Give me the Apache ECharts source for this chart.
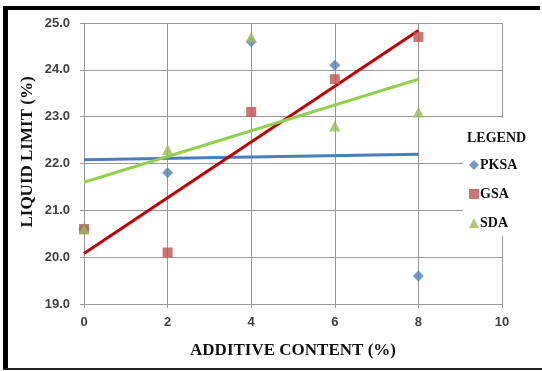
<!DOCTYPE html>
<html>
<head>
<meta charset="utf-8">
<script src="https://cdn.jsdelivr.net/npm/echarts@6/dist/echarts.min.js"></script>
<style>html,body{margin:0;padding:0;background:#fff;}#c{width:542px;height:371px;}</style>
</head>
<body>
<div id="c"></div>
<script>
var additive = [0, 2, 4, 6, 8];
var pksa = [20.6, 21.8, 24.6, 24.1, 19.6];
var gsa = [20.6, 20.1, 23.1, 23.8, 24.7];
var sda = [20.6, 22.3, 24.7, 22.8, 23.1];
var trendX = [0, 8];
var pksaTrend = [22.08, 22.2];
var gsaTrend = [20.08, 24.84];
var sdaTrend = [21.6, 23.8];

function pairs(xs, ys) { return xs.map(function (x, i) { return [x, ys[i]]; }); }

var chart = echarts.init(document.getElementById('c'));
var serif = '"Liberation Serif", "Times New Roman", serif';
var sans = '"Liberation Sans", Arial, sans-serif';
chart.setOption({
  animation: false,
  backgroundColor: '#fff',
  grid: { left: 84, right: 40, top: 23, bottom: 67 },
  xAxis: {
    type: 'value', min: 0, max: 10, interval: 2,
    name: 'ADDITIVE CONTENT (%)', nameLocation: 'middle', nameGap: 38,
    nameTextStyle: { fontFamily: serif, fontWeight: 'bold', fontSize: 17, color: '#111' },
    axisLine: { show: true, lineStyle: { color: '#999', width: 1 } },
    axisTick: { show: true, length: 4, lineStyle: { color: '#999' } },
    splitLine: { show: true, lineStyle: { color: '#999', width: 1 } },
    axisLabel: { fontFamily: sans, fontWeight: 'bold', fontSize: 13, color: '#404040', margin: 12 }
  },
  yAxis: {
    type: 'value', min: 19, max: 25, interval: 1,
    axisLine: { show: true, lineStyle: { color: '#999', width: 1 } },
    axisTick: { show: true, length: 4, lineStyle: { color: '#999' } },
    splitLine: { show: true, lineStyle: { color: '#999', width: 1 } },
    axisLabel: { fontFamily: sans, fontWeight: 'bold', fontSize: 13, color: '#404040', margin: 14,
      formatter: function (v) { return v.toFixed(1); } }
  },
  legend: {
    orient: 'vertical', left: 464, top: 153,
    itemWidth: 10, itemHeight: 10, itemGap: 15,
    data: ['PKSA', 'GSA', 'SDA'],
    textStyle: { fontFamily: serif, fontWeight: 'bold', fontSize: 14, color: '#111', padding: [0, 0, 0, -4] },
    z: 6
  },
  graphic: [
    { type: 'rect', shape: { x: 463, y: 118, width: 79, height: 118 }, style: { fill: '#fff' }, z: 5 },
    { type: 'text', x: 467, y: 138, style: { text: 'LEGEND', fontFamily: serif, fontWeight: 'bold', fontSize: 14, fill: '#111', textVerticalAlign: 'middle' }, z: 7 },
    { type: 'text', x: 28, y: 152, rotation: Math.PI / 2, style: { text: 'LIQUID LIMIT (%)', fontFamily: serif, fontWeight: 'bold', fontSize: 17, fill: '#111', textAlign: 'center', textVerticalAlign: 'middle' }, z: 7 },
    { type: 'rect', shape: { x: 5, y: 6, width: 535, height: 4 }, style: { fill: '#000' }, z: 8 },
    { type: 'rect', shape: { x: 3, y: 6, width: 5, height: 364 }, style: { fill: '#000' }, z: 8 },
    { type: 'rect', shape: { x: 3, y: 368, width: 539, height: 2 }, style: { fill: '#222' }, z: 8 }
  ],
  series: [
    { name: 'PKSA trend', type: 'line', data: pairs(trendX, pksaTrend), symbol: 'none', lineStyle: { color: '#4A7EBB', width: 3 }, z: 2 },
    { name: 'GSA trend', type: 'line', data: pairs(trendX, gsaTrend), symbol: 'none', lineStyle: { color: '#C00000', width: 3 }, z: 2 },
    { name: 'SDA trend', type: 'line', data: pairs(trendX, sdaTrend), symbol: 'none', lineStyle: { color: '#92D050', width: 3 }, z: 2 },
    { name: 'PKSA', type: 'scatter', data: pairs(additive, pksa), symbol: 'diamond', symbolSize: 11, itemStyle: { color: '#4F81BD' }, z: 3 },
    { name: 'GSA', type: 'scatter', data: pairs(additive, gsa), symbol: 'rect', symbolSize: 10, itemStyle: { color: '#C0504D' }, z: 3 },
    { name: 'SDA', type: 'scatter', data: pairs(additive, sda), symbol: 'triangle', symbolSize: 11, itemStyle: { color: '#9BBB59' }, z: 3 }
  ]
});
</script>
</body>
</html>
